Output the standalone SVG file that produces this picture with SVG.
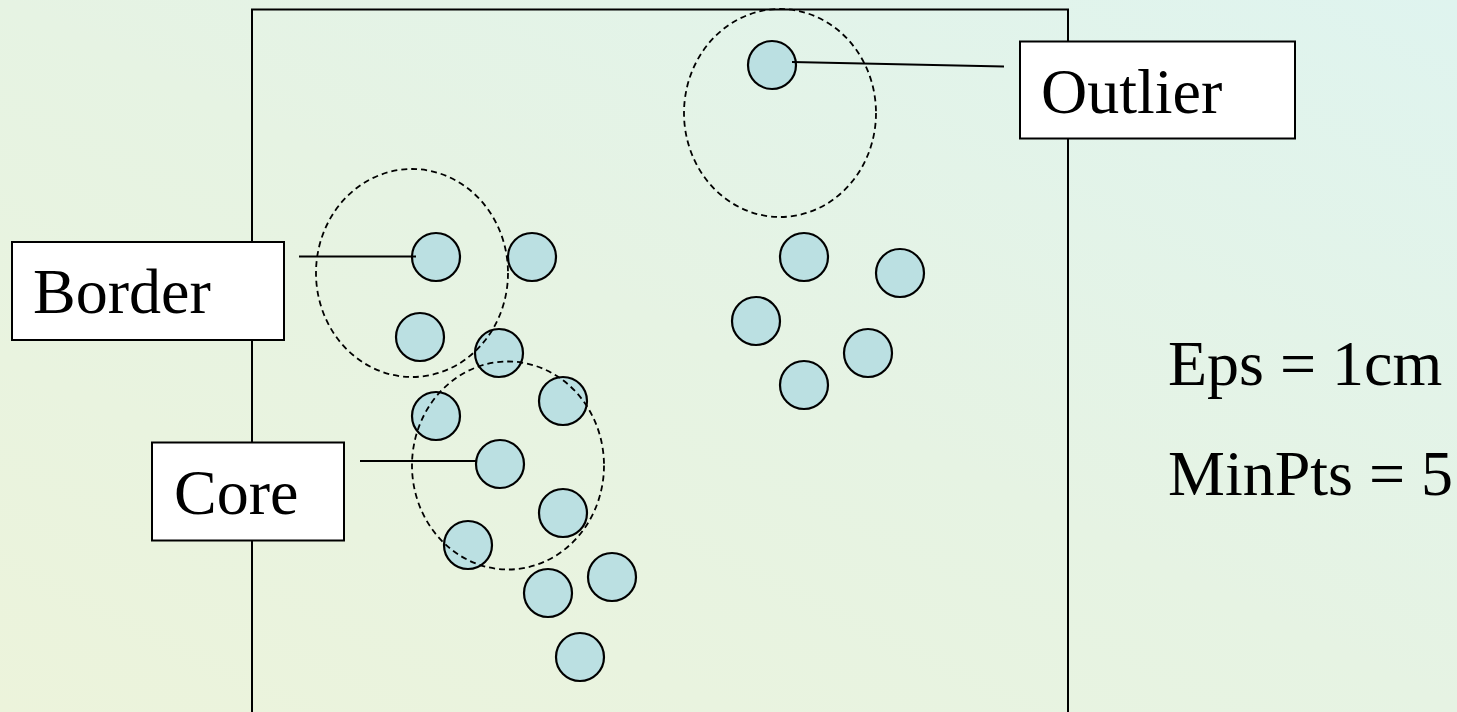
<svg xmlns="http://www.w3.org/2000/svg" width="1457" height="712" viewBox="0 0 1457 712">
<defs>
<linearGradient id="bg" x1="0" y1="1" x2="1" y2="0">
<stop offset="0" stop-color="#ecf3db"/>
<stop offset="0.5" stop-color="#e6f3e3"/>
<stop offset="1" stop-color="#dff4ef"/>
</linearGradient>
<style>
.pt{fill:#bbe0e2;stroke:#000;stroke-width:2.2}
.eps{fill:none;stroke:#000;stroke-width:1.8;stroke-dasharray:6 4}
.box{fill:#fff;stroke:#000;stroke-width:2}
.lead{stroke:#000;stroke-width:1.8;fill:none}
.t{font-size:64px;fill:#000}
</style>
</defs>
<rect x="0" y="0" width="1457" height="712" fill="url(#bg)"/>
<rect id="frame" x="252" y="9.5" width="816" height="720" fill="none" stroke="#000" stroke-width="2"/>
<g id="points">
<circle class="pt" cx="436" cy="257" r="24"/>
<circle class="pt" cx="532" cy="257" r="24"/>
<circle class="pt" cx="420" cy="337" r="24"/>
<circle class="pt" cx="499" cy="353" r="24"/>
<circle class="pt" cx="436" cy="416" r="24"/>
<circle class="pt" cx="563" cy="401" r="24"/>
<circle class="pt" cx="500" cy="464" r="24"/>
<circle class="pt" cx="563" cy="513" r="24"/>
<circle class="pt" cx="468" cy="545" r="24"/>
<circle class="pt" cx="548" cy="593" r="24"/>
<circle class="pt" cx="612" cy="577" r="24"/>
<circle class="pt" cx="580" cy="657" r="24"/>
<circle class="pt" cx="772" cy="65" r="24"/>
<circle class="pt" cx="804" cy="257" r="24"/>
<circle class="pt" cx="900" cy="273" r="24"/>
<circle class="pt" cx="756" cy="321" r="24"/>
<circle class="pt" cx="868" cy="353" r="24"/>
<circle class="pt" cx="804" cy="385" r="24"/>
</g>
<g id="eps-regions">
<ellipse class="eps" cx="412" cy="273" rx="96" ry="104"/>
<ellipse class="eps" cx="508" cy="465.5" rx="96" ry="104"/>
<ellipse class="eps" cx="780" cy="113" rx="96" ry="104"/>
</g>
<g id="connectors">
<line class="lead" x1="792" y1="62" x2="1004" y2="66.5"/>
<line class="lead" x1="299" y1="256.5" x2="416" y2="256.5"/>
<line class="lead" x1="360" y1="461" x2="476" y2="461"/>
</g>
<g font-family="Liberation Serif, Times New Roman, serif">
<g id="outlier">
<rect class="box" x="1020" y="41.5" width="275" height="97"/>
<text class="t" x="1041" y="113">Outlier</text>
</g>
<g id="border">
<rect class="box" x="12" y="242" width="272" height="98"/>
<text class="t" x="33" y="313">Border</text>
</g>
<g id="core">
<rect class="box" x="152" y="442.5" width="192" height="98"/>
<text class="t" x="174" y="514">Core</text>
</g>
<g id="params">
<text class="t" x="1168" y="385">Eps = 1cm</text>
<text class="t" x="1168" y="495">MinPts = 5</text>
</g>
</g>
</svg>
